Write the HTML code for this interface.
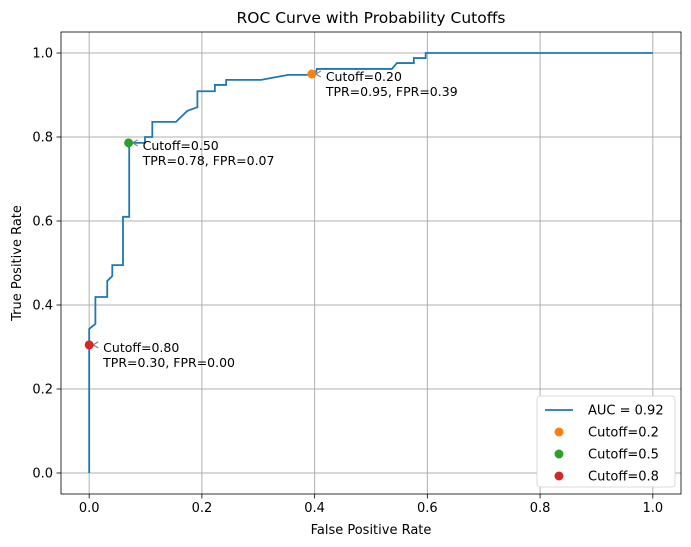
<!DOCTYPE html>
<html><head><meta charset="utf-8"><style>
body{margin:0;background:#fff}
svg{display:block;font-family:"DejaVu Sans","Liberation Sans",sans-serif}
</style></head><body>
<svg id="chart" width="691" height="547" viewBox="0 0 691 547"></svg>
<script>
const fprValues=[0,0,0.011,0.011,0.032,0.032,0.041,0.041,0.06,0.06,0.071,0.071,0.099,0.099,0.112,0.112,0.154,0.174,0.192,0.192,0.223,0.223,0.243,0.243,0.305,0.353,0.401,0.404,0.537,0.546,0.576,0.576,0.597,0.597,1];
const tprValues=[0,0.343,0.355,0.419,0.419,0.457,0.469,0.495,0.495,0.61,0.61,0.786,0.786,0.8,0.8,0.836,0.836,0.862,0.871,0.909,0.909,0.924,0.924,0.936,0.936,0.948,0.948,0.962,0.962,0.976,0.976,0.988,0.988,1,1];
const cutoffLabels=["0.20","0.50","0.80"];
const cutoffFpr=[0.395,0.07,0.0];
const cutoffTpr=[0.95,0.786,0.305];
const cutoffTprText=["0.95","0.78","0.30"];
const cutoffFprText=["0.39","0.07","0.00"];
const cutoffColors=["#ff7f0e","#2ca02c","#d62728"];
const legendLabels=["AUC = 0.92","Cutoff=0.2","Cutoff=0.5","Cutoff=0.8"];
const xTicks=[0,0.2,0.4,0.6,0.8,1.0];
const yTicks=[0,0.2,0.4,0.6,0.8,1.0];
const NS="http://www.w3.org/2000/svg";
const svg=document.getElementById('chart');
const L=61,R=681,T=32,B=494;
const sx=v=>L+(v+0.05)/1.1*(R-L);
const sy=v=>B-(v+0.05)/1.1*(B-T);
function mk(tag,attrs,parent){const e=document.createElementNS(NS,tag);for(const k in attrs)e.setAttribute(k,attrs[k]);(parent||svg).appendChild(e);return e;}
xTicks.forEach(t=>{
  const g=mk('line',{x1:sx(t),x2:sx(t),y1:T,y2:B,stroke:'#b0b0b0','stroke-width':1});
  
  
  mk('line',{x1:sx(t),x2:sx(t),y1:B,y2:B+4.5,stroke:'#000','stroke-width':0.8});
  const tx=mk('text',{x:sx(t),y:B+18,'font-size':13,'text-anchor':'middle',fill:'#000'});
  tx.textContent=t.toFixed(1);
  
  
});
yTicks.forEach(t=>{
  const g=mk('line',{x1:L,x2:R,y1:sy(t),y2:sy(t),stroke:'#b0b0b0','stroke-width':1});
  
  
  mk('line',{x1:L-4.5,x2:L,y1:sy(t),y2:sy(t),stroke:'#000','stroke-width':0.8});
  const tx=mk('text',{x:L-8,y:sy(t)+4.5,'font-size':13,'text-anchor':'end',fill:'#000'});
  tx.textContent=t.toFixed(1);
  
  
});
const curve=mk('polyline',{points:fprValues.map((v,i)=>sx(v)+','+sy(tprValues[i])).join(' '),fill:'none',stroke:'#1f77b4','stroke-width':1.8});


cutoffLabels.forEach((lab,i)=>{
  const px=sx(cutoffFpr[i]),py=sy(cutoffTpr[i]);
  const ar=mk('path',{d:`M${px+9},${py-3} L${px+4},${py} L${px+9},${py+3}`,fill:'none',stroke:'#808080','stroke-width':1.2});
  
  
  const c=mk('circle',{cx:px,cy:py,r:4.5,fill:cutoffColors[i]});
  
  
  const t1=mk('text',{x:px+14,y:py+7,'font-size':12.5,fill:'#000'});
  t1.textContent='Cutoff='+lab;
  
  
  const t2=mk('text',{x:px+14,y:py+22,'font-size':12.5,fill:'#000'});
  t2.textContent='TPR='+cutoffTprText[i]+', FPR='+cutoffFprText[i];
  
  
});
const fr=mk('rect',{x:L,y:T,width:R-L,height:B-T,fill:'none',stroke:'#000','stroke-width':0.8});


const lg=mk('g',{});


mk('rect',{x:537,y:396,width:138,height:91,rx:3,fill:'#fff',stroke:'#d0d0d0','stroke-width':0.8},lg);
legendLabels.forEach((lab,i)=>{
  const y=410+i*22;
  if(i===0){mk('line',{x1:545,x2:573,y1:y,y2:y,stroke:'#1f77b4','stroke-width':1.8},lg);}
  else{mk('circle',{cx:559,cy:y,r:4.5,fill:cutoffColors[i-1]},lg);}
  const t=mk('text',{x:588,y:y+4.5,'font-size':13,fill:'#000'},lg);
  t.textContent=lab;
  
  
});
const ti=mk('text',{x:371,y:23,'font-size':15.5,'text-anchor':'middle',fill:'#000'});
ti.textContent='ROC Curve with Probability Cutoffs';


const xl=mk('text',{x:371,y:534,'font-size':13,'text-anchor':'middle',fill:'#000'});
xl.textContent='False Positive Rate';


const yl=mk('text',{x:21,y:263,'font-size':13,'text-anchor':'middle',fill:'#000',transform:'rotate(-90 21 263)'});
yl.textContent='True Positive Rate';


</script>
</body></html>
